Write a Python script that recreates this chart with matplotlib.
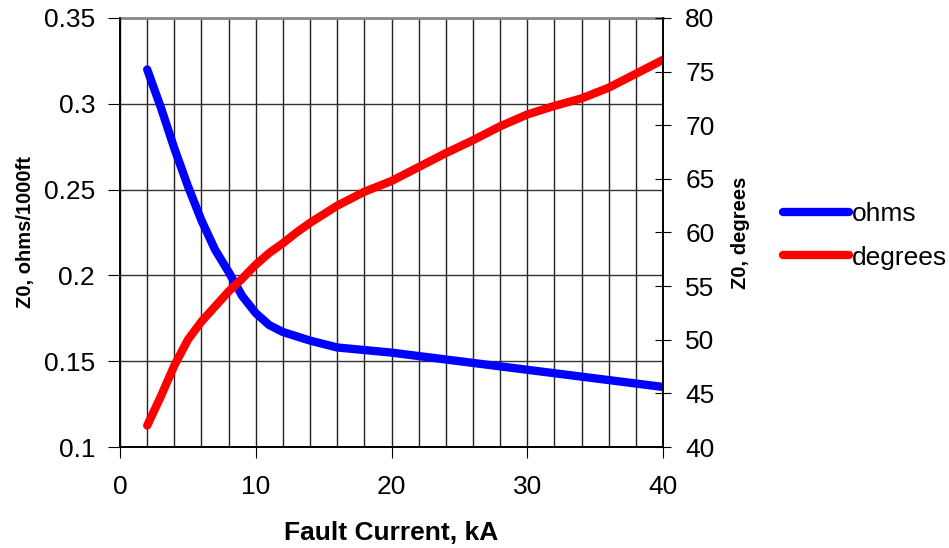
import matplotlib.pyplot as plt
from matplotlib.ticker import MultipleLocator

plt.rcParams['font.family'] = ['Liberation Sans', 'DejaVu Sans']

# fault current, kA
ohms_x = [2, 3, 4, 5, 6, 7, 8, 9, 10, 11, 12, 14, 16, 18, 20, 22, 24, 26, 28, 30, 32, 34, 36, 38, 40]
ohms_y = [0.320, 0.298, 0.274, 0.252, 0.232, 0.215, 0.202, 0.188, 0.178, 0.171, 0.167, 0.162, 0.158,
          0.1565, 0.155, 0.153, 0.151, 0.149, 0.147, 0.145, 0.143, 0.141, 0.139, 0.137, 0.135]

deg_x = [2, 3, 4, 5, 6, 7, 8, 9, 10, 11, 12, 13, 14, 16, 18, 20, 22, 24, 26, 28, 30, 32, 34, 36, 38, 40]
deg_y = [42.0, 44.7, 47.6, 50.0, 51.7, 53.1, 54.5, 55.7, 57.0, 58.1, 59.0, 60.0, 60.9, 62.5, 63.8,
         64.8, 66.1, 67.4, 68.6, 69.9, 71.0, 71.8, 72.5, 73.5, 74.8, 76.1]

fig = plt.figure(figsize=(9.49, 5.48), dpi=100)
ax = fig.add_axes([0.1265, 0.1843, 0.5721, 0.7829])
ax2 = ax.twinx()

l1, = ax.plot(ohms_x, ohms_y, color="#0000ff", lw=6, solid_capstyle="round", solid_joinstyle="round", label="ohms")
l2, = ax2.plot(deg_x, deg_y, color="#ff0000", lw=6, solid_capstyle="round", solid_joinstyle="round", label="degrees")

ax.set_xlim(0, 40)
ax.set_ylim(0.1, 0.35)
ax2.set_ylim(40, 80)

ax.xaxis.set_major_locator(MultipleLocator(10))
ax.xaxis.set_minor_locator(MultipleLocator(2))
ax2.yaxis.set_major_locator(MultipleLocator(5))
ax.set_yticks([0.1, 0.15, 0.2, 0.25, 0.3, 0.35])
ax.set_yticklabels(["0.1", "0.15", "0.2", "0.25", "0.3", "0.35"])

ax.grid(True, which="both", axis="x", color="#222222", lw=1)
ax.grid(True, which="major", axis="y", color="#333333", lw=1)
ax.set_axisbelow(True)

ax.tick_params(axis="x", which="minor", length=0)
ax.tick_params(axis="x", which="major", direction="out", length=8, labelsize=19, pad=12)
ax.tick_params(axis="y", direction="out", length=9, labelsize=19, pad=9)
ax2.tick_params(axis="y", direction="inout", length=12, labelsize=19, pad=10)

ax.spines["top"].set_color("#888888")
ax.spines["top"].set_linewidth(2)
ax2.spines["top"].set_visible(False)
for a in (ax, ax2):
    for s in ["left", "bottom", "right"]:
        a.spines[s].set_linewidth(1.2)

ax.set_xlabel("Fault Current, kA", fontsize=19, fontweight="bold", labelpad=16)
ax.set_ylabel("Z0, ohms/1000ft", fontsize=14.5, fontweight="bold", labelpad=6)
ax2.set_ylabel("Z0, degrees", fontsize=14.5, fontweight="bold", labelpad=11.5)

fig.legend(handles=[l1, l2], loc="center left", bbox_to_anchor=(0.814, 0.57),
           frameon=False, fontsize=19, handlelength=2.5, handletextpad=0.1,
           labelspacing=0.75, borderaxespad=0)

fig.savefig("out.png", dpi=100)
